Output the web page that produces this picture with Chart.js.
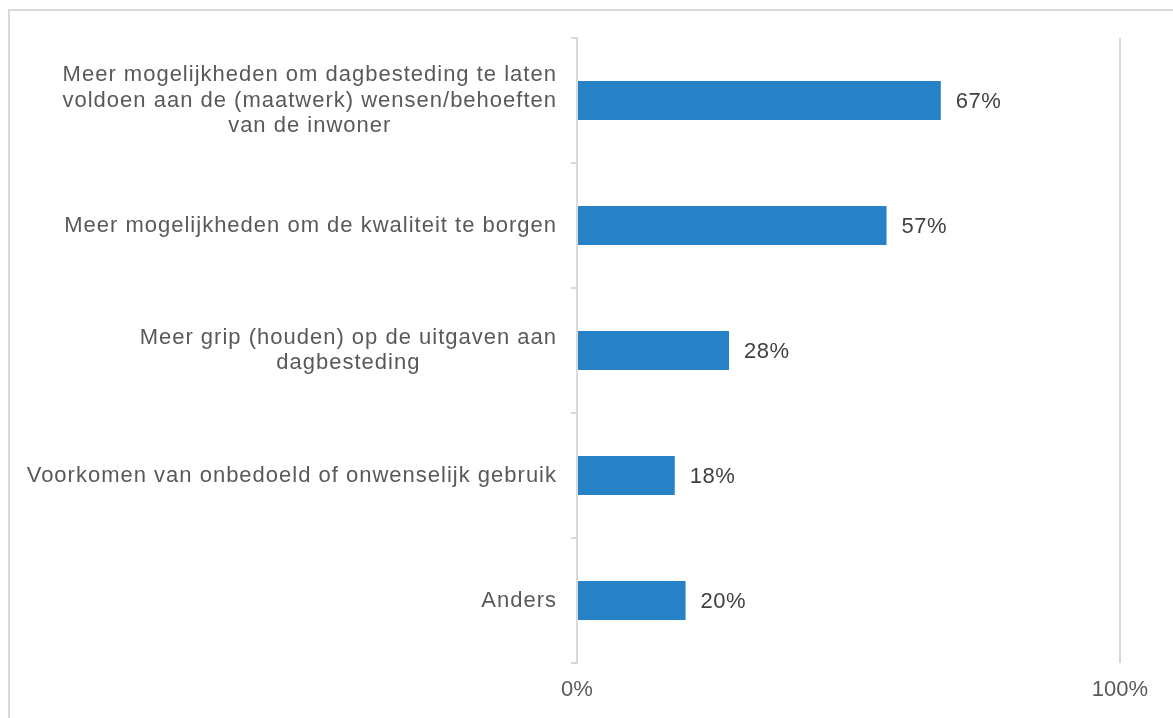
<!DOCTYPE html>
<html>
<head>
<meta charset="utf-8">
<script src="https://cdn.jsdelivr.net/npm/chart.js@4"></script>
<style>
  html, body { margin: 0; padding: 0; background: #ffffff; overflow: hidden; width: 1173px; height: 718px; }
  #frame { position: absolute; left: 8px; top: 9px; width: 1300px; height: 800px; border: 2px solid #d9d9d9; box-sizing: border-box; }
  #c { position: absolute; left: 0; top: 0; }
</style>
</head>
<body>
<div id="frame"></div>
<canvas id="c" width="1173" height="718"></canvas>
<script>
const categories = [
  ["Meer mogelijkheden om dagbesteding te laten", "voldoen aan de (maatwerk) wensen/behoeften", "van de inwoner"],
  ["Meer mogelijkheden om de kwaliteit te borgen"],
  ["Meer grip (houden) op de uitgaven aan", "dagbesteding"],
  ["Voorkomen van onbedoeld of onwenselijk gebruik"],
  ["Anders"]
];
const values = [67, 57, 28, 18, 20];
const xTickValues = [0, 100];

const FONT_FAMILY = '"Liberation Sans", Arial, sans-serif';
Chart.defaults.font.family = FONT_FAMILY;

const categoryLabelPlugin = {
  id: 'categoryLabels',
  afterDraw(chart) {
    const ctx = chart.ctx;
    const yScale = chart.scales.y;
    const right = chart.chartArea.left - 20;
    ctx.save();
    ctx.font = '22px ' + FONT_FAMILY;
    ctx.letterSpacing = '1px';
    ctx.fillStyle = '#595959';
    ctx.textBaseline = 'middle';
    ctx.textAlign = 'center';
    const lh = 25.5;
    categories.forEach((lines, i) => {
      const cy = yScale.getPixelForValue(i);
      const maxW = Math.max(...lines.map(l => ctx.measureText(l).width));
      const cx = right - maxW / 2;
      lines.forEach((l, j) => {
        ctx.fillText(l, cx, cy + (j - (lines.length - 1) / 2) * lh);
      });
    });
    ctx.restore();
  }
};

const valueLabelPlugin = {
  id: 'valueLabels',
  afterDatasetsDraw(chart) {
    const ctx = chart.ctx;
    const meta = chart.getDatasetMeta(0);
    ctx.save();
    ctx.font = '22px ' + FONT_FAMILY;
    ctx.letterSpacing = '0.5px';
    ctx.fillStyle = '#404040';
    ctx.textBaseline = 'middle';
    ctx.textAlign = 'left';
    meta.data.forEach((bar, i) => {
      ctx.fillText(values[i] + '%', bar.x + 15, bar.y + 1);
    });
    ctx.restore();
  }
};

new Chart(document.getElementById('c'), {
  type: 'bar',
  data: {
    labels: categories,
    datasets: [{
      data: values,
      backgroundColor: '#2781C6',
      borderWidth: 0,
      categoryPercentage: 1,
      barPercentage: 0.312
    }]
  },
  options: {
    indexAxis: 'y',
    responsive: false,
    animation: false,
    layout: { padding: { left: 567, right: 53, top: 38, bottom: 0 } },
    plugins: { legend: { display: false }, tooltip: { enabled: false } },
    scales: {
      x: {
        min: 0,
        max: 100,
        afterBuildTicks: s => { s.ticks = xTickValues.map(v => ({ value: v })); },
        afterFit: s => { s.height = 55; },
        ticks: {
          callback: v => v + '%',
          color: '#595959',
          font: { size: 22 },
          padding: 14,
          maxRotation: 0
        },
        grid: { color: '#d9d9d9', lineWidth: 2, drawTicks: false },
        border: { display: false }
      },
      y: {
        afterFit: s => { s.width = 10; },
        ticks: { display: false },
        grid: { offset: true, drawOnChartArea: false, tickLength: 6, color: '#d9d9d9', lineWidth: 2 },
        border: { color: '#d9d9d9', width: 2 }
      }
    }
  },
  plugins: [valueLabelPlugin, categoryLabelPlugin]
});
</script>
</body>
</html>
